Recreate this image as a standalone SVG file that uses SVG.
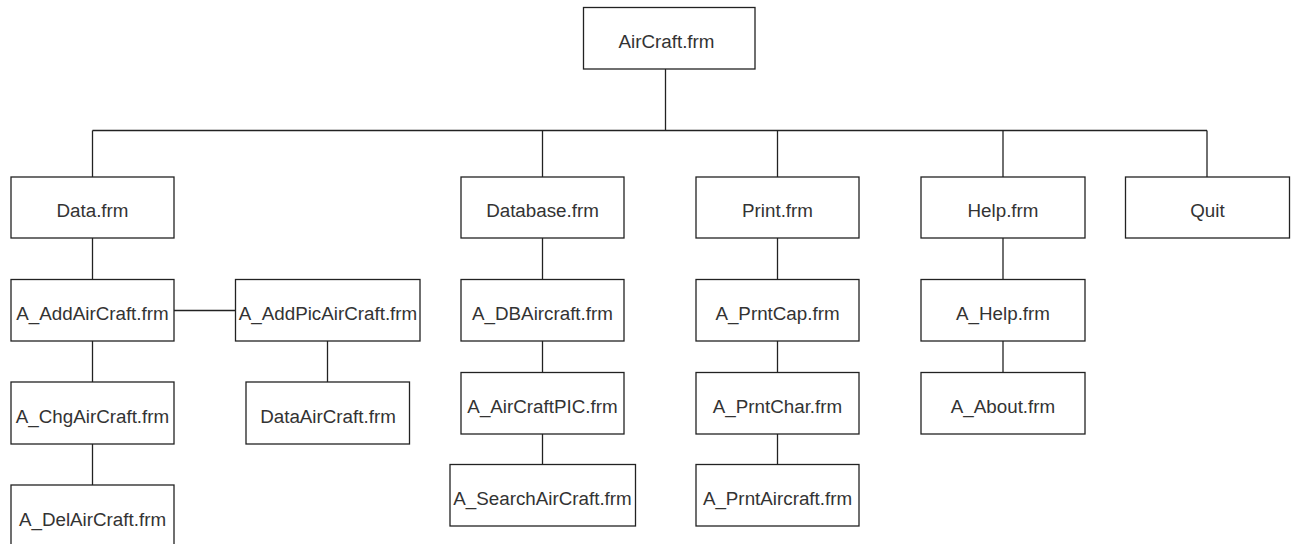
<svg xmlns="http://www.w3.org/2000/svg" width="1296" height="544" viewBox="0 0 1296 544">
  <style>
    .box rect { fill: #ffffff; stroke: #222222; stroke-width: 1.3; }
    .box text { font-family: "Liberation Sans", Arial, sans-serif; font-size: 18.8px; fill: #333333; text-anchor: middle; }
    .link { stroke: #222222; stroke-width: 1.3; fill: none; }
  </style>
  <rect width="1296" height="544" fill="#ffffff"/>

  <!-- connectors -->
  <g id="connectors" class="link">
    <line x1="665.5" y1="69" x2="665.5" y2="130.5"/>
    <line x1="92.5" y1="130.5" x2="1207" y2="130.5"/>
    <line x1="92.5" y1="130.5" x2="92.5" y2="177"/>
    <line x1="542.5" y1="130.5" x2="542.5" y2="177"/>
    <line x1="777.5" y1="130.5" x2="777.5" y2="177"/>
    <line x1="1003" y1="130.5" x2="1003" y2="177"/>
    <line x1="1207" y1="130.5" x2="1207" y2="177"/>
    <!-- Data column -->
    <line x1="92.5" y1="238" x2="92.5" y2="279.5"/>
    <line x1="92.5" y1="341" x2="92.5" y2="382"/>
    <line x1="92.5" y1="444" x2="92.5" y2="485"/>
    <line x1="174" y1="310.5" x2="235.5" y2="310.5"/>
    <line x1="327.5" y1="341" x2="327.5" y2="382"/>
    <!-- Database column -->
    <line x1="542.5" y1="238" x2="542.5" y2="279.5"/>
    <line x1="542.5" y1="341" x2="542.5" y2="372.5"/>
    <line x1="542.5" y1="434" x2="542.5" y2="464.5"/>
    <!-- Print column -->
    <line x1="777.5" y1="238" x2="777.5" y2="279.5"/>
    <line x1="777.5" y1="341" x2="777.5" y2="372.5"/>
    <line x1="777.5" y1="434" x2="777.5" y2="464.5"/>
    <!-- Help column -->
    <line x1="1003" y1="238" x2="1003" y2="279.5"/>
    <line x1="1003" y1="341" x2="1003" y2="372.5"/>
  </g>

  <!-- root -->
  <g id="aircraft" class="box"><rect x="583.5" y="7.5" width="171.5" height="61.5"/><text x="666.5" y="48">AirCraft.frm</text></g>

  <!-- first level -->
  <g id="data" class="box"><rect x="11" y="177" width="163" height="61"/><text x="92.5" y="217">Data.frm</text></g>
  <g id="database" class="box"><rect x="461" y="177" width="163" height="61"/><text x="542.5" y="217">Database.frm</text></g>
  <g id="print" class="box"><rect x="696" y="177" width="163" height="61"/><text x="777.5" y="217">Print.frm</text></g>
  <g id="help" class="box"><rect x="921" y="177" width="164" height="61"/><text x="1003" y="217">Help.frm</text></g>
  <g id="quit" class="box"><rect x="1125.5" y="177" width="164" height="61"/><text x="1207.5" y="217">Quit</text></g>

  <!-- Data branch -->
  <g id="a-addaircraft" class="box"><rect x="11" y="279.5" width="163" height="61.5"/><text x="92.5" y="320">A_AddAirCraft.frm</text></g>
  <g id="a-addpicaircraft" class="box"><rect x="235.5" y="279.5" width="184.5" height="61.5"/><text x="328" y="320">A_AddPicAirCraft.frm</text></g>
  <g id="dataaircraft" class="box"><rect x="246" y="382" width="163.5" height="62"/><text x="328" y="423">DataAirCraft.frm</text></g>
  <g id="a-chgaircraft" class="box"><rect x="11" y="382" width="163" height="62"/><text x="92.5" y="423">A_ChgAirCraft.frm</text></g>
  <g id="a-delaircraft" class="box"><rect x="11" y="485" width="163" height="62"/><text x="92.5" y="526">A_DelAirCraft.frm</text></g>

  <!-- Database branch -->
  <g id="a-dbaircraft" class="box"><rect x="461" y="279.5" width="163" height="61.5"/><text x="542.5" y="320">A_DBAircraft.frm</text></g>
  <g id="a-aircraftpic" class="box"><rect x="461" y="372.5" width="163" height="61.5"/><text x="542.5" y="413">A_AirCraftPIC.frm</text></g>
  <g id="a-searchaircraft" class="box"><rect x="450" y="464.5" width="185.5" height="61.5"/><text x="542.5" y="505">A_SearchAirCraft.frm</text></g>

  <!-- Print branch -->
  <g id="a-prntcap" class="box"><rect x="696" y="279.5" width="163" height="61.5"/><text x="777.5" y="320">A_PrntCap.frm</text></g>
  <g id="a-prntchar" class="box"><rect x="696" y="372.5" width="163" height="61.5"/><text x="777.5" y="413">A_PrntChar.frm</text></g>
  <g id="a-prntaircraft" class="box"><rect x="696" y="464.5" width="163" height="61.5"/><text x="777.5" y="505">A_PrntAircraft.frm</text></g>

  <!-- Help branch -->
  <g id="a-help" class="box"><rect x="921" y="279.5" width="164" height="61.5"/><text x="1003" y="320">A_Help.frm</text></g>
  <g id="a-about" class="box"><rect x="921" y="372.5" width="164" height="61.5"/><text x="1003" y="413">A_About.frm</text></g>
</svg>
